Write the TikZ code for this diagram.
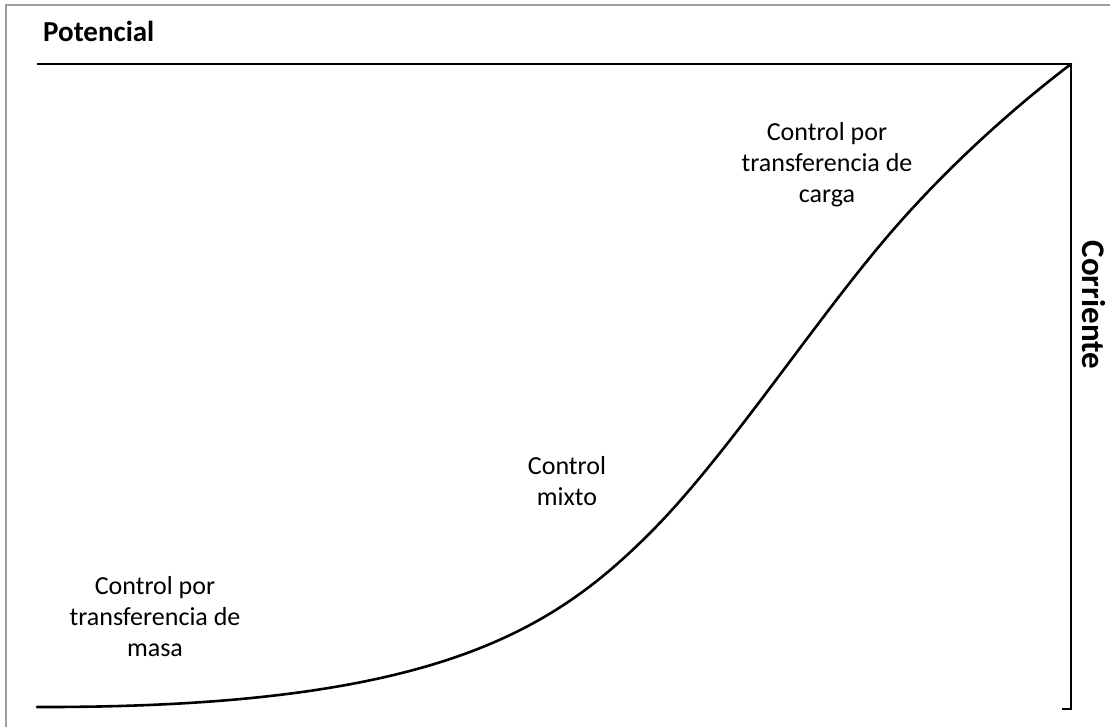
\documentclass[tikz,border=0pt]{standalone}
\usepackage{fontspec}
\setmainfont{Carlito}
\begin{document}
\begin{tikzpicture}[x=1pt,y=-1pt,
  frame/.style={draw=black!38,line width=2pt},
  axis/.style={draw=black,line width=2.4pt},
  curve/.style={draw=black,line width=2.6pt,line cap=round},
  region/.style={align=center,font=\fontsize{26}{31}\selectfont,inner sep=0pt},
  axislabel/.style={font=\bfseries\fontsize{29}{34}\selectfont,inner sep=0pt}]
  \useasboundingbox (0,0) rectangle (1110,727);
  % outer frame (top and left edges)
  \draw[frame] (6,727) -- (6,5) -- (1110,5);
  % axes
  \coordinate (origin) at (37,64);
  \coordinate (corner) at (1071,64);
  \coordinate (bottom) at (1071,709);
  \coordinate (tick) at (1062,709);
  \draw[axis] (origin) -- (corner) -- (bottom) -- (tick);
  % polarisation curve: flat foot, steep middle, bending towards the corner
  \coordinate (start) at (37,707);
  \coordinate (knee) at (650,533);
  \coordinate (shoulder) at (900,222);
  \draw[curve] (start)
    .. controls (430,708) and (550,633) .. (knee)
    .. controls (730,453) and (820,312) .. (shoulder)
    .. controls (955,160) and (1016,106) .. (corner);
  % labels
  \node[axislabel,anchor=west] (pot) at (43,31) {Potencial};
  \node[axislabel,font=\bfseries\fontsize{33}{37}\selectfont,rotate=-90] (cor) at (1094,305) {Corriente};
  \node[region] (carga) at (827,165) {Control por\\transferencia de\\carga};
  \node[region] (mixto) at (567,481) {Control\\mixto};
  \node[region] (masa) at (155,617) {Control por\\transferencia de\\masa};
\end{tikzpicture}
\end{document}
